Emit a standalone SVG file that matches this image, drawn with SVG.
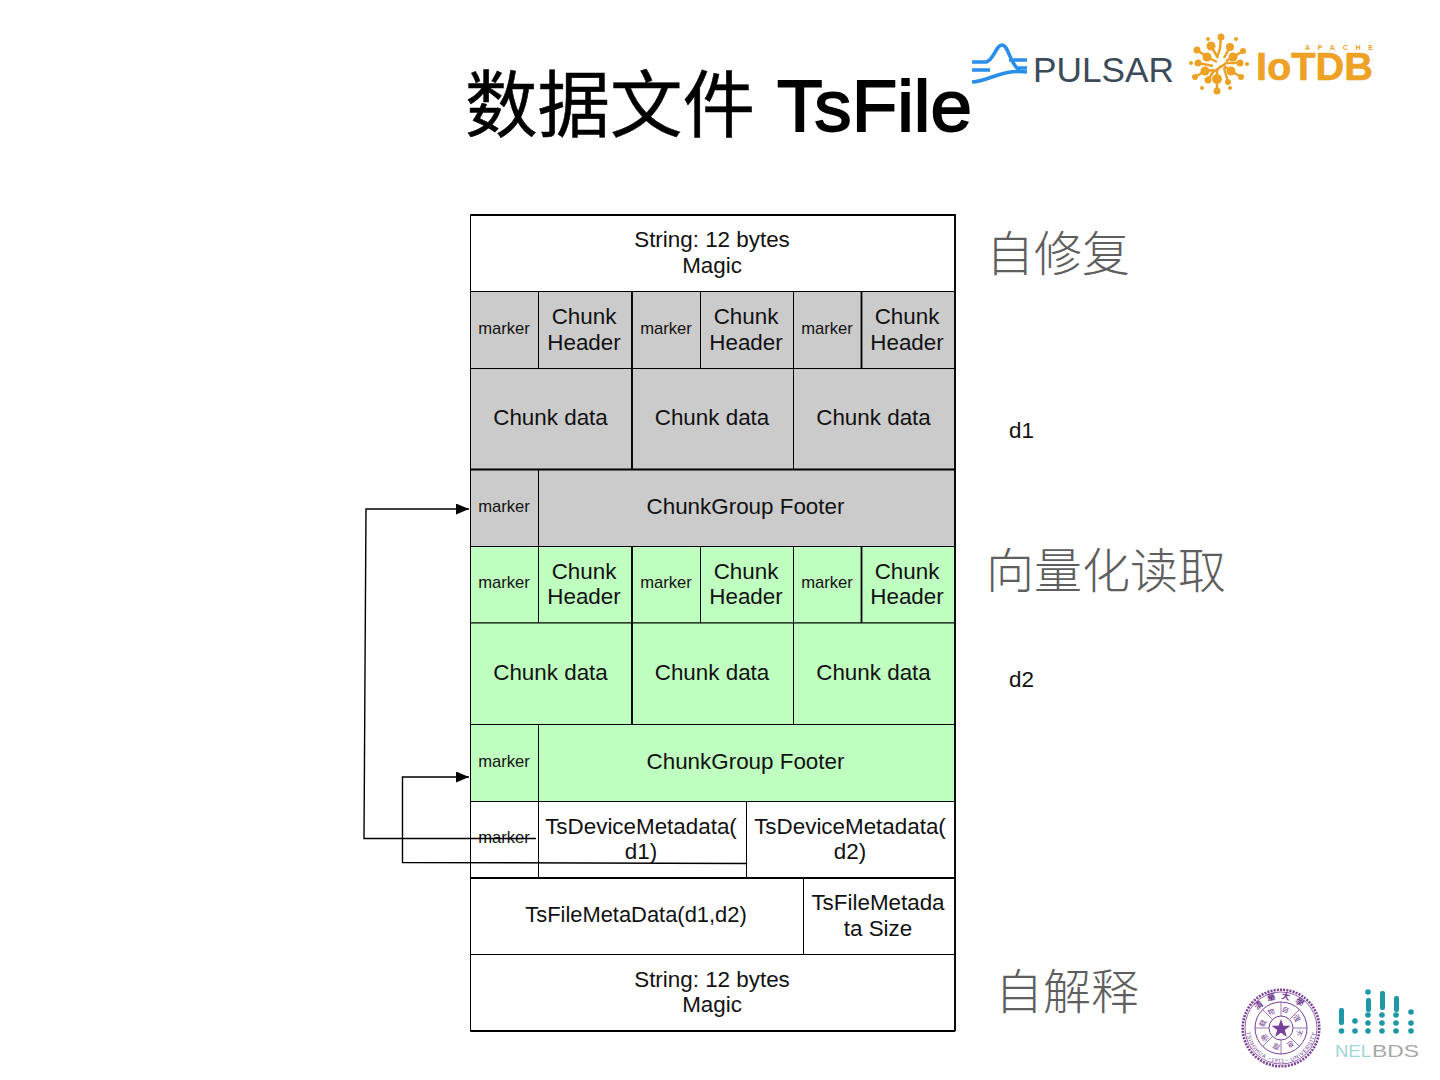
<svg xmlns="http://www.w3.org/2000/svg" width="1440" height="1080" viewBox="0 0 1440 1080">
<style>
text{font-family:"Liberation Sans","Noto Sans CJK SC",sans-serif;fill:#111}
.c{fill:#fff;stroke:#000;stroke-width:1}
.g{fill:#cbcbcb}.l{fill:#bfffbf}
.t{font-size:22.4px;text-anchor:middle}
.m{font-size:16.6px;text-anchor:middle}
.s{font-size:48px;fill:#5e5e5e;font-weight:300}
.d{font-size:22.4px}
.cn{fill:none;stroke:#000;stroke-width:1.4}
.org circle{fill:#eea225}
.pur{fill:none;stroke:#7a3f98}.tea{fill:#1f97a6}
.seal{fill:#6f3a90}
</style>
<defs>
<marker id="a" markerUnits="userSpaceOnUse" markerWidth="14" markerHeight="12" refX="13" refY="5.5" orient="auto"><path d="M0 0L13 5.500L0 11z" fill="#000"/></marker>
<path id="sealTop" d="M1252 1028A29 29 0 0 1 1310 1028"/>
<path id="sealBottom" d="M1248 1016A35 35 0 1 0 1314 1016"/>
<path id="sealInner" d="M1281 1012A16 16 0 1 1 1280.900 1012"/>
</defs>
<rect width="1440" height="1080" fill="#fff"/>
<g id="title"><text x="465" y="131" font-size="72.500" stroke="#000" stroke-width=".5" style="fill:#000">数据文件</text><text x="777" y="131" font-size="73" textLength="195" lengthAdjust="spacingAndGlyphs" stroke="#000" stroke-width="1.800" style="fill:#000">TsFile</text></g>

<g id="magic-top"><rect class="c" x="470.500" y="215" width="484.500" height="76.500"/><text class="t" x="712" y="247">String: 12 bytes</text><text class="t" x="712" y="273">Magic</text></g>

<g id="d1-headers">
<rect class="c g" x="470.500" y="291.500" width="68" height="77"/><text class="m" x="504" y="334">marker</text>
<rect class="c g" x="538.500" y="291.500" width="93.500" height="77"/><text class="t" x="584" y="324">Chunk</text><text class="t" x="584" y="350">Header</text>
<rect class="c g" x="632" y="291.500" width="68.500" height="77"/><text class="m" x="666" y="334">marker</text>
<rect class="c g" x="700.500" y="291.500" width="93" height="77"/><text class="t" x="746" y="324">Chunk</text><text class="t" x="746" y="350">Header</text>
<rect class="c g" x="793.500" y="291.500" width="68" height="77"/><text class="m" x="827" y="334">marker</text>
<rect class="c g" x="861.500" y="291.500" width="93.500" height="77"/><text class="t" x="907" y="324">Chunk</text><text class="t" x="907" y="350">Header</text>
</g>
<g id="d1-data">
<rect class="c g" x="470.500" y="368.500" width="161.500" height="101"/><text class="t" x="550.500" y="425">Chunk data</text>
<rect class="c g" x="632" y="368.500" width="161.500" height="101"/><text class="t" x="712" y="425">Chunk data</text>
<rect class="c g" x="793.500" y="368.500" width="161.500" height="101"/><text class="t" x="873.500" y="425">Chunk data</text>
</g>
<g id="d1-footer">
<rect class="c g" x="470.500" y="469.500" width="68" height="77"/><text class="m" x="504" y="512">marker</text>
<rect class="c g" x="538.500" y="469.500" width="416.500" height="77"/><text class="t" x="745.500" y="514">ChunkGroup Footer</text>
</g>

<g id="d2-headers">
<rect class="c l" x="470.500" y="546.500" width="68" height="76.500"/><text class="m" x="504" y="588">marker</text>
<rect class="c l" x="538.500" y="546.500" width="93.500" height="76.500"/><text class="t" x="584" y="579">Chunk</text><text class="t" x="584" y="604">Header</text>
<rect class="c l" x="632" y="546.500" width="68.500" height="76.500"/><text class="m" x="666" y="588">marker</text>
<rect class="c l" x="700.500" y="546.500" width="93" height="76.500"/><text class="t" x="746" y="579">Chunk</text><text class="t" x="746" y="604">Header</text>
<rect class="c l" x="793.500" y="546.500" width="68" height="76.500"/><text class="m" x="827" y="588">marker</text>
<rect class="c l" x="861.500" y="546.500" width="93.500" height="76.500"/><text class="t" x="907" y="579">Chunk</text><text class="t" x="907" y="604">Header</text>
</g>
<g id="d2-data">
<rect class="c l" x="470.500" y="623" width="161.500" height="101.500"/><text class="t" x="550.500" y="680">Chunk data</text>
<rect class="c l" x="632" y="623" width="161.500" height="101.500"/><text class="t" x="712" y="680">Chunk data</text>
<rect class="c l" x="793.500" y="623" width="161.500" height="101.500"/><text class="t" x="873.500" y="680">Chunk data</text>
</g>
<g id="d2-footer">
<rect class="c l" x="470.500" y="724.500" width="68" height="77"/><text class="m" x="504" y="767">marker</text>
<rect class="c l" x="538.500" y="724.500" width="416.500" height="77"/><text class="t" x="745.500" y="769">ChunkGroup Footer</text>
</g>

<g id="device-meta">
<rect class="c" x="470.500" y="801.500" width="68" height="76.500"/><text class="m" x="504" y="843">marker</text>
<rect class="c" x="538.500" y="801.500" width="208" height="76.500"/><text class="t" x="641" y="834">TsDeviceMetadata(</text><text class="t" x="641" y="859">d1)</text>
<rect class="c" x="746.500" y="801.500" width="208.500" height="76.500"/><text class="t" x="850" y="834">TsDeviceMetadata(</text><text class="t" x="850" y="859">d2)</text>
</g>
<g id="file-meta">
<rect class="c" x="470.500" y="878" width="333" height="76.500"/><text class="t" x="636" y="922" style="font-size:21.900px">TsFileMetaData(d1,d2)</text>
<rect class="c" x="803.500" y="878" width="151.500" height="76.500"/><text class="t" x="878" y="910">TsFileMetada</text><text class="t" x="878" y="936">ta Size</text>
</g>
<g id="magic-bottom"><rect class="c" x="470.500" y="954.500" width="484.500" height="76.500"/><text class="t" x="712" y="987">String: 12 bytes</text><text class="t" x="712" y="1012">Magic</text></g>
<path d="M470.500 878H955M470.500 215H955V1031M470.500 469.500H955M470.500 1031H955M632 292V469.500M861.500 292V368.500M632 547V724.500M861.500 547V623" fill="none" stroke="#000" stroke-width="1.800"/>

<g id="connectors">
<path class="cn" d="M536 838.500H364L366 509H469" marker-end="url(#a)"/>
<path class="cn" d="M746.500 863.500L402.500 862.500V777H469" marker-end="url(#a)"/>
</g>

<g id="side-labels">
<text class="s" x="986" y="271">自修复</text>
<text class="s" x="986" y="588">向量化读取</text>
<text class="s" x="995" y="1009">自解释</text>
<text class="d" x="1009" y="438">d1</text>
<text class="d" x="1009" y="687">d2</text>
</g>

<g id="logo-pulsar">
<path d="M972 62H986C994 60 996 45 1002 45C1008 45 1009 60 1017 68H1027M1009 60H1027M972 70H990M972 82C990 81 1000 69 1027 72" fill="none" stroke="#2a8fe8" stroke-width="3.600"/>
<text x="1033" y="82" font-size="34.500" textLength="141" lengthAdjust="spacingAndGlyphs" style="fill:#3c4b5a">PULSAR</text>
</g>
<g id="logo-iotdb">
<path d="M1213 72L1228 62M1217 79V70L1221 66M1221 37L1220 48L1217 58M1211 46L1218 58M1230 47L1224 58M1207 57L1217 62M1233 57L1226 61M1198 63L1213 66M1240 63L1226 63M1205 71L1214 70M1231 71L1224 66M1195 77L1205 71M1241 77L1231 71M1208 80L1213 72M1228 82L1224 68M1197 50L1207 57M1243 51L1233 57M1217 91V79" stroke="#eea225" stroke-width="2.500" fill="none"/>
<g class="org">
<circle cx="1221" cy="37" r="3.500"/><circle cx="1208" cy="39" r="2"/><circle cx="1236" cy="39" r="2"/>
<circle cx="1211" cy="46" r="4.500"/><circle cx="1230" cy="47" r="4"/><circle cx="1197" cy="50" r="3.500"/><circle cx="1243" cy="51" r="3"/>
<circle cx="1207" cy="57" r="4.500"/><circle cx="1233" cy="57" r="4.500"/><circle cx="1191" cy="63" r="2"/><circle cx="1247" cy="64" r="2"/>
<circle cx="1198" cy="63" r="3.500"/><circle cx="1240" cy="63" r="3.500"/><circle cx="1205" cy="71" r="4.500"/><circle cx="1231" cy="71" r="4.500"/>
<circle cx="1195" cy="77" r="3"/><circle cx="1241" cy="77" r="3"/><circle cx="1208" cy="80" r="3.500"/><circle cx="1228" cy="82" r="3"/>
<circle cx="1217" cy="79" r="5"/><circle cx="1202" cy="88" r="2"/><circle cx="1230" cy="88" r="2"/><circle cx="1217" cy="91" r="3.500"/>
</g>
<text x="1256" y="80" font-size="39" font-weight="700" textLength="117" lengthAdjust="spacingAndGlyphs" stroke="#eea225" stroke-width=".6" style="fill:#eea225">IoTDB</text>
<text x="1305" y="49.500" font-size="7" font-weight="700" textLength="68" style="fill:#eea225">APACHE</text>
</g>
<g id="logo-tsinghua">
<circle class="pur" cx="1281" cy="1028" r="38.300" stroke-width="2.600" stroke-dasharray="2 1.200"/>
<circle class="pur" cx="1281" cy="1028" r="36" stroke-width=".8"/>
<circle class="pur" cx="1281" cy="1028" r="26" stroke-width="1"/>
<circle class="pur" cx="1281" cy="1028" r="12" stroke-width="1"/>
<path class="pur" stroke-width=".7" d="M1281 1002V1016M1281 1040V1054M1255 1028H1269M1293 1028H1307M1262.600 1009.600L1272.500 1019.500M1289.500 1036.500L1299.400 1046.400M1262.600 1046.400L1272.500 1036.500M1289.500 1019.500L1299.400 1009.600"/>
<text font-size="8.500" font-weight="700" letter-spacing="5" text-anchor="middle" style="fill:#6f3a90"><textPath href="#sealTop" startOffset="50%">清華大學</textPath></text>
<text font-size="5.500" letter-spacing=".7" text-anchor="middle" style="fill:#6f3a90"><textPath href="#sealBottom" startOffset="50%">TSINGHUA  ~1911~  UNIVERSITY</textPath></text>
<text font-size="7" letter-spacing="5.500" style="fill:#6f3a90"><textPath href="#sealInner">自强不息厚德载物</textPath></text>
<path d="M1281 1019L1283.400 1025.700H1290.500L1284.800 1030L1286.900 1037L1281 1032.800L1275.100 1037L1277.200 1030L1271.500 1025.700H1278.600z" fill="#7a3f98"/>
</g>
<g id="logo-nelbds">
<g class="tea">
<rect x="1339" y="1008" width="5" height="17" rx="2"/><rect x="1366" y="998" width="5" height="14" rx="2"/><rect x="1380" y="991" width="5" height="19" rx="2"/><rect x="1394" y="996" width="5" height="16" rx="2"/>
<circle cx="1368" cy="992" r="2.800"/><circle cx="1355" cy="1021" r="2.800"/><circle cx="1411" cy="1012" r="2.800"/>
<circle cx="1368" cy="1015" r="2.800"/><circle cx="1382" cy="1015" r="2.800"/><circle cx="1396" cy="1015" r="2.800"/>
<circle cx="1368" cy="1023" r="2.800"/><circle cx="1382" cy="1023" r="2.800"/><circle cx="1396" cy="1023" r="2.800"/><circle cx="1411" cy="1023" r="2.800"/>
<circle cx="1341.500" cy="1031" r="2.800"/><circle cx="1355" cy="1031" r="2.800"/><circle cx="1368" cy="1031" r="2.800"/><circle cx="1382" cy="1031" r="2.800"/><circle cx="1396" cy="1031" r="2.800"/><circle cx="1411" cy="1031" r="2.800"/>
</g>
<text x="1335" y="1057" font-size="17" textLength="36" lengthAdjust="spacingAndGlyphs" style="fill:#9ed6d8">NEL</text>
<text x="1372" y="1057" font-size="17" textLength="47" lengthAdjust="spacingAndGlyphs" style="fill:#a8a8a8">BDS</text>
</g>
</svg>
